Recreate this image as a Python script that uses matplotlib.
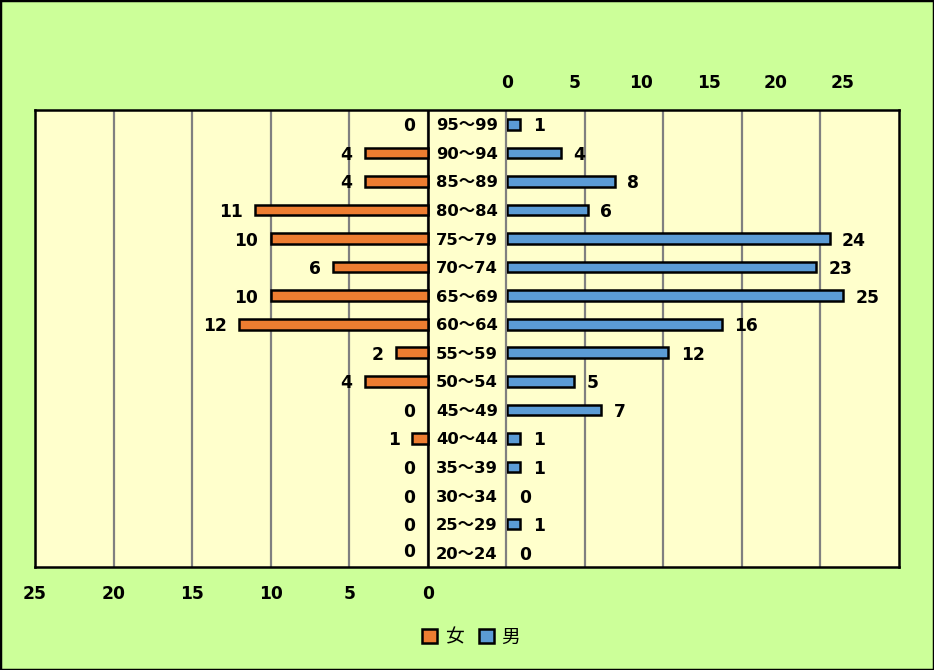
import matplotlib
matplotlib.use('Agg')
import matplotlib.pyplot as plt
from matplotlib.patches import Patch, Rectangle
import numpy as np

plt.rcParams['font.family'] = ['DejaVu Sans', 'Noto Sans CJK JP']

# data, top row first
ages = ['95～99', '90～94', '85～89', '80～84', '75～79', '70～74', '65～69', '60～64',
        '55～59', '50～54', '45～49', '40～44', '35～39', '30～34', '25～29', '20～24']
female = [0, 4, 4, 11, 10, 6, 10, 12, 2, 4, 0, 1, 0, 0, 0, 0]
male = [1, 4, 8, 6, 24, 23, 25, 16, 12, 5, 7, 1, 1, 0, 1, 0]
ticks = [0, 5, 10, 15, 20, 25]

c_f = '#ED7D31'
c_m = '#5B9BD5'
W, H = 934, 670
fs = 12.3


def rect(x0, y0, x1, y1):
    return [x0 / W, 1 - y1 / H, (x1 - x0) / W, (y1 - y0) / H]


fig = plt.figure(figsize=(9.34, 6.70), dpi=100, facecolor='#CCFF99')
fig.patches.append(Rectangle((0, 0), 1, 1, transform=fig.transFigure, fill=False,
                             edgecolor='black', lw=2.5))

y = np.arange(len(ages))[::-1]

# female axis spans the whole plot area (reversed)
ax_f = fig.add_axes(rect(35, 110, 899, 567))
ax_f.set_facecolor('#FFFFCC')
ax_f.set_xlim(25, -30)
ax_f.set_ylim(-0.5, len(ages) - 0.5)
ax_f.set_xticks(list(range(25, -30, -5)))
ax_f.set_xticklabels([str(v) if v >= 0 else '' for v in range(25, -30, -5)])
ax_f.set_yticks([])
ax_f.grid(axis='x', color='#808080', lw=1.6, zorder=0)
ax_f.set_axisbelow(True)
ax_f.tick_params(axis='x', length=0, pad=13, labelsize=fs)
for lab in ax_f.get_xticklabels():
    lab.set_fontweight('bold')
for s in ax_f.spines.values():
    s.set_linewidth(1.8)
ax_f.axvline(0, color='black', lw=1.8, zorder=1)

lw_f = [1.8 if v > 0 else 0 for v in female]
ax_f.barh(y, female, height=0.37, color=c_f, edgecolor='black', linewidth=lw_f, zorder=2)
for yi, v in zip(y, female):
    dy = 2 if yi == 0 else 0
    ax_f.annotate(str(v), (v, yi), xytext=(-9, dy), textcoords='offset points',
                  ha='right', va='center_baseline', fontsize=fs, fontweight='bold')
for yi, lab in zip(y, ages):
    ax_f.text(-2.5, yi, lab, ha='center', va='center_baseline', fontsize=fs - 0.5,
              fontweight='bold')

# male axis
ax_m = fig.add_axes(rect(507, 110, 899, 567))
ax_m.set_facecolor('none')
ax_m.set_xlim(0, 29.17)
ax_m.set_ylim(-0.5, len(ages) - 0.5)
ax_m.set_xticks(ticks)
ax_m.set_yticks([])
ax_m.xaxis.tick_top()
ax_m.tick_params(axis='x', length=0, pad=13, labelsize=fs)
for lab in ax_m.get_xticklabels():
    lab.set_fontweight('bold')
for s in ax_m.spines.values():
    s.set_visible(False)

lw_m = [1.8 if v > 0 else 0 for v in male]
ax_m.barh(y, male, height=0.37, color=c_m, edgecolor='black', linewidth=lw_m, zorder=2)
for yi, v in zip(y, male):
    ax_m.annotate(str(v), (v, yi), xytext=(9, 0), textcoords='offset points',
                  ha='left', va='center_baseline', fontsize=fs, fontweight='bold')

handles = [Patch(facecolor=c_f, edgecolor='black', lw=1.8, label='女'),
           Patch(facecolor=c_m, edgecolor='black', lw=1.8, label='男')]
fig.legend(handles=handles, loc='center', bbox_to_anchor=(471 / W, 1 - 637 / H), ncol=2,
           frameon=False, handlelength=0.8, handleheight=0.8, handletextpad=0.4,
           columnspacing=0.8, prop={'family': 'Noto Sans CJK JP', 'size': 13.5})

fig.savefig('out.png', dpi=100, facecolor=fig.get_facecolor())
